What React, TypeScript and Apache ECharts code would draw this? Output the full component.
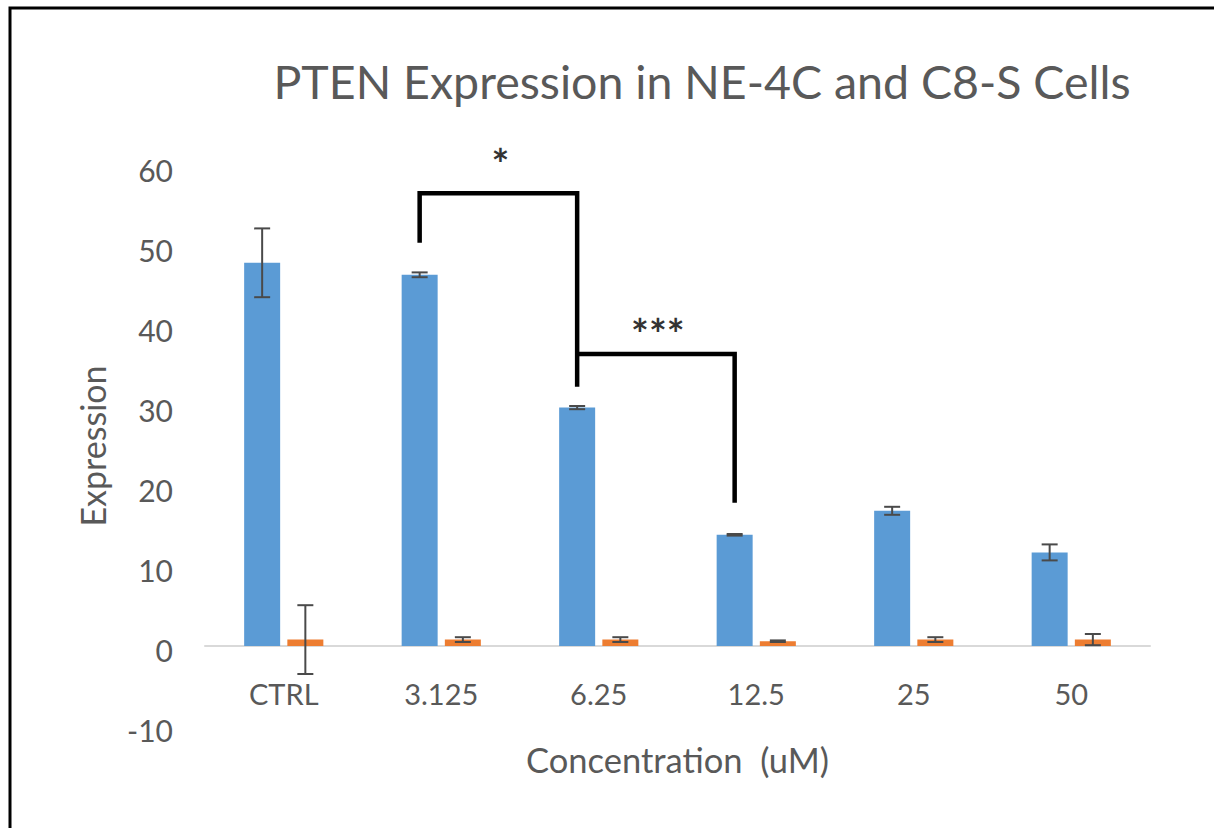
import React, { useEffect, useRef } from "react";
import * as echarts from "echarts";

const categories = ["CTRL", "3.125", "6.25", "12.5", "25", "50"];
const ne4cValues = [47.9, 46.4, 29.8, 13.9, 16.9, 11.7];
const ne4cErrors = [4.3, 0.3, 0.2, 0.1, 0.5, 1.0];
const c8sValues = [0.8, 0.8, 0.8, 0.6, 0.8, 0.8];
const c8sErrors = [4.3, 0.3, 0.3, 0.1, 0.3, 0.7];

// significance brackets: [startCategory, endCategory, startLegValue, topValue, endLegValue]
const brackets = [
  [1, 2, 50.4, 56.6, 32.4],
  [2, 3, 36.5, 36.5, 17.9],
];
const bracketLabels = ["*", "***"];
const bracketLabelValues = [60.2, 39.0];

const yTicks = { min: -10, max: 60, interval: 10 };

const BAR_W = 36;
const GAP = 7.2;
const OFF = (BAR_W + GAP) / 2;
const FONT = "Lato, 'Open Sans', sans-serif";
const GREY = "#595959";

export default function App() {
  const ref = useRef<HTMLDivElement>(null);
  useEffect(() => {
    const chart = echarts.init(ref.current!, null, { renderer: "svg" });

    const errorSeries = (vals: number[], errs: number[], offset: number) => ({
      type: "custom",
      silent: true,
      z: 5,
      data: vals.map((v, i) => [i, v, errs[i]]),
      renderItem: (params: any, api: any) => {
        const i = api.value(0);
        const v = api.value(1);
        const e = api.value(2);
        const top = api.coord([i, v + e]);
        const bot = api.coord([i, v - e]);
        const x = top[0] + offset;
        const cap = 8;
        const style = { stroke: "#4a4a4a", lineWidth: 2 };
        return {
          type: "group",
          children: [
            { type: "line", shape: { x1: x, y1: top[1], x2: x, y2: bot[1] }, style },
            { type: "line", shape: { x1: x - cap, y1: top[1], x2: x + cap, y2: top[1] }, style },
            { type: "line", shape: { x1: x - cap, y1: bot[1], x2: x + cap, y2: bot[1] }, style },
          ],
        };
      },
    });

    chart.setOption({
      animation: false,
      backgroundColor: "#ffffff",
      title: {
        text: "PTEN Expression in NE-4C and C8-S Cells",
        left: 697,
        textAlign: "center",
        top: 52,
        textStyle: { fontFamily: FONT, fontSize: 46.5, fontWeight: "normal", color: GREY },
      },
      grid: {
        left: 205,
        right: 64,
        top: 166,
        bottom: 102,
        containLabel: false,
        outerBoundsMode: "none",
      },
      xAxis: {
        type: "category",
        data: categories,
        name: "Concentration  (uM)",
        nameLocation: "middle",
        nameGap: 16,
        nameMoveOverlap: false,
        nameTextStyle: { fontFamily: FONT, fontSize: 34.5, color: GREY },
        axisLine: { onZero: true, lineStyle: { color: "#d9d9d9", width: 2 } },
        axisTick: { show: false },
        axisLabel: { margin: -47, fontFamily: FONT, fontSize: 29, color: GREY },
      },
      yAxis: {
        type: "value",
        min: yTicks.min,
        max: yTicks.max,
        interval: yTicks.interval,
        name: "Expression",
        nameLocation: "middle",
        nameGap: 96,
        nameMoveOverlap: false,
        nameTextStyle: { fontFamily: FONT, fontSize: 34, color: GREY },
        axisLine: { show: false },
        axisTick: { show: false },
        splitLine: { show: false },
        axisLabel: {
          margin: 32,
          formatter: "{a|{value}}",
          rich: {
            a: {
              padding: [8, 0, 0, 0],
              fontFamily: FONT,
              fontSize: 30,
              color: GREY,
            },
          },
          fontFamily: FONT,
          fontSize: 30,
          color: GREY,
        },
      },
      graphic: [
        {
          type: "rect",
          shape: { x: 10, y: 8, width: 1400, height: 1000 },
          style: { fill: "none", stroke: "#000", lineWidth: 3 },
          silent: true,
        },
      ],
      series: [
        {
          type: "bar",
          name: "NE-4C",
          data: ne4cValues,
          barWidth: BAR_W,
          barGap: "20%",
          itemStyle: { color: "#5B9BD5" },
        },
        {
          type: "bar",
          name: "C8-S",
          data: c8sValues,
          barWidth: BAR_W,
          itemStyle: { color: "#ED7D31" },
        },
        errorSeries(ne4cValues, ne4cErrors, -OFF),
        errorSeries(c8sValues, c8sErrors, OFF),
        {
          type: "custom",
          silent: true,
          z: 6,
          data: brackets,
          renderItem: (params: any, api: any) => {
            const s = api.value(0);
            const e = api.value(1);
            const a = api.coord([s, api.value(2)]);
            const t = api.coord([s, api.value(3)]);
            const b = api.coord([e, api.value(4)]);
            const x1 = a[0] - OFF;
            const x2 = b[0] - OFF;
            const lbl = api.coord([s, bracketLabelValues[params.dataIndex]]);
            return {
              type: "group",
              children: [
                {
                  type: "polyline",
                  shape: { points: [[x1, a[1]], [x1, t[1]], [x2, t[1]], [x2, b[1]]] },
                  style: { stroke: "#000", lineWidth: 4.5, fill: "none" },
                },
                {
                  type: "text",
                  style: {
                    x: (x1 + x2) / 2 + 2,
                    y: lbl[1],
                    text: bracketLabels[params.dataIndex],
                    align: "center",
                    verticalAlign: "middle",
                    fontSize: 42,
                    fontWeight: "bold",
                    fontFamily: FONT,
                    fill: "#333",
                  },
                },
              ],
            };
          },
        },
      ],
    });
    return () => chart.dispose();
  }, []);
  return (
    <div
      ref={ref}
      style={{ position: "fixed", left: 0, top: 0, width: 1214, height: 828 }}
    />
  );
}
